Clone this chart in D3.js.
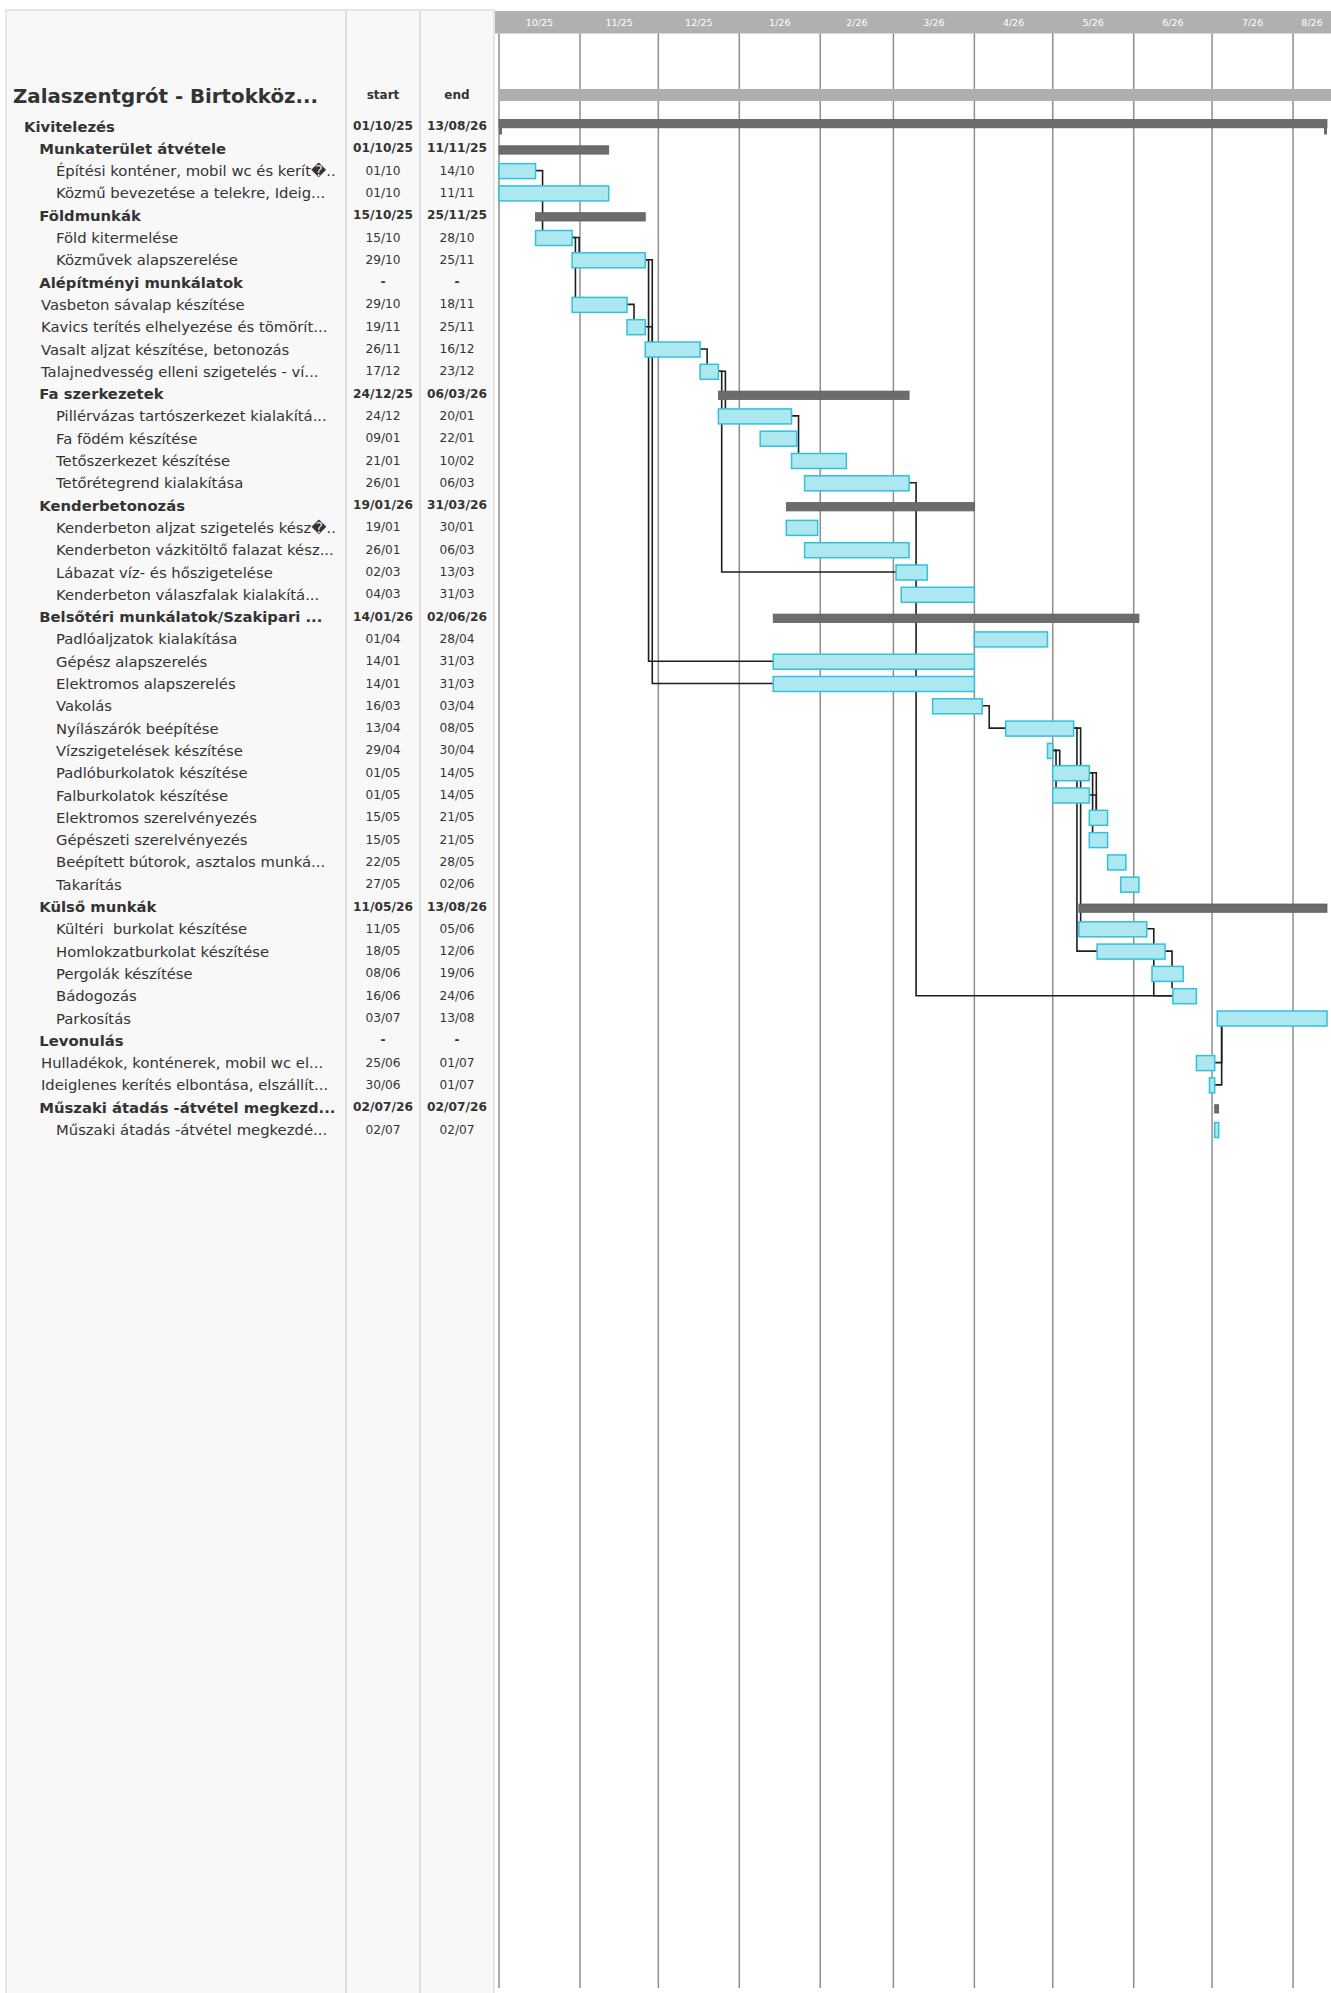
<!DOCTYPE html>
<html>
<head>
<meta charset="utf-8">
<script src="https://cdn.jsdelivr.net/npm/d3@7.9.0/dist/d3.min.js"></script>
<style>
  body { margin: 0; background: #fff; }
  svg { display: block; font-family: "DejaVu Sans", sans-serif; }
  text { white-space: pre; }
</style>
</head>
<body>
<svg id="chart" width="1331" height="1993"></svg>
<script>
// chart data
const projectTitle = "Zalaszentgrót - Birtokköz...";
const columnTitles = ["start", "end"];
const monthLabels = ["10/25", "11/25", "12/25", "1/26", "2/26", "3/26", "4/26", "5/26", "6/26", "7/26", "8/26"];

const taskNames = [
  "Kivitelezés",
  "Munkaterület átvétele",
  "Építési konténer, mobil wc és kerít\uFFFD..",
  "Közmű bevezetése a telekre, Ideig...",
  "Földmunkák",
  "Föld kitermelése",
  "Közművek alapszerelése",
  "Alépítményi munkálatok",
  "Vasbeton sávalap készítése",
  "Kavics terítés elhelyezése és tömörít...",
  "Vasalt aljzat készítése, betonozás",
  "Talajnedvesség elleni szigetelés - ví...",
  "Fa szerkezetek",
  "Pillérvázas tartószerkezet kialakítá...",
  "Fa födém készítése",
  "Tetőszerkezet készítése",
  "Tetőrétegrend kialakítása",
  "Kenderbetonozás",
  "Kenderbeton aljzat szigetelés kész\uFFFD..",
  "Kenderbeton vázkitöltő falazat kész...",
  "Lábazat víz- és hőszigetelése",
  "Kenderbeton válaszfalak kialakítá...",
  "Belsőtéri munkálatok/Szakipari ...",
  "Padlóaljzatok kialakítása",
  "Gépész alapszerelés",
  "Elektromos alapszerelés",
  "Vakolás",
  "Nyílászárók beépítése",
  "Vízszigetelések készítése",
  "Padlóburkolatok készítése",
  "Falburkolatok készítése",
  "Elektromos szerelvényezés",
  "Gépészeti szerelvényezés",
  "Beépített bútorok, asztalos munká...",
  "Takarítás",
  "Külső munkák",
  "Kültéri  burkolat készítése",
  "Homlokzatburkolat készítése",
  "Pergolák készítése",
  "Bádogozás",
  "Parkosítás",
  "Levonulás",
  "Hulladékok, konténerek, mobil wc el...",
  "Ideiglenes kerítés elbontása, elszállít...",
  "Műszaki átadás -átvétel megkezd...",
  "Műszaki átadás -átvétel megkezdé..."
];

const taskLevels = [0, 1, 2, 2, 1, 2, 2, 1, 1, 1, 1, 1, 1, 2, 2, 2, 2, 1, 2, 2, 2, 2, 1, 2, 2, 2,
  2, 2, 2, 2, 2, 2, 2, 2, 2, 1, 2, 2, 2, 2, 2, 1, 1, 1, 1, 2];

const taskIsGroup = [1, 1, 0, 0, 1, 0, 0, 1, 0, 0, 0, 0, 1, 0, 0, 0, 0, 1, 0, 0, 0, 0, 1, 0, 0, 0,
  0, 0, 0, 0, 0, 0, 0, 0, 0, 1, 0, 0, 0, 0, 0, 1, 0, 0, 1, 0];

const taskStarts = [
  "2025-10-01", "2025-10-01", "2025-10-01", "2025-10-01", "2025-10-15", "2025-10-15", "2025-10-29",
  "", "2025-10-29", "2025-11-19", "2025-11-26", "2025-12-17", "2025-12-24", "2025-12-24",
  "2026-01-09", "2026-01-21", "2026-01-26", "2026-01-19", "2026-01-19", "2026-01-26", "2026-03-02",
  "2026-03-04", "2026-01-14", "2026-04-01", "2026-01-14", "2026-01-14", "2026-03-16", "2026-04-13",
  "2026-04-29", "2026-05-01", "2026-05-01", "2026-05-15", "2026-05-15", "2026-05-22", "2026-05-27",
  "2026-05-11", "2026-05-11", "2026-05-18", "2026-06-08", "2026-06-16", "2026-07-03", "",
  "2026-06-25", "2026-06-30", "2026-07-02", "2026-07-02"
];

const taskEnds = [
  "2026-08-13", "2025-11-11", "2025-10-14", "2025-11-11", "2025-11-25", "2025-10-28", "2025-11-25",
  "", "2025-11-18", "2025-11-25", "2025-12-16", "2025-12-23", "2026-03-06", "2026-01-20",
  "2026-01-22", "2026-02-10", "2026-03-06", "2026-03-31", "2026-01-30", "2026-03-06", "2026-03-13",
  "2026-03-31", "2026-06-02", "2026-04-28", "2026-03-31", "2026-03-31", "2026-04-03", "2026-05-08",
  "2026-04-30", "2026-05-14", "2026-05-14", "2026-05-21", "2026-05-21", "2026-05-28", "2026-06-02",
  "2026-08-13", "2026-06-05", "2026-06-12", "2026-06-19", "2026-06-24", "2026-08-13", "",
  "2026-07-01", "2026-07-01", "2026-07-02", "2026-07-02"
];

// [predecessor row, successor row]
const dependencies = [
  [2, 5], [5, 6], [5, 8], [6, 25], [6, 24], [8, 9], [9, 10], [10, 11], [11, 13], [11, 20],
  [13, 15], [16, 39], [26, 27], [27, 36], [27, 37], [28, 29], [28, 30], [29, 31], [29, 32],
  [30, 31], [36, 39], [37, 39], [42, 40], [43, 40]
];

// setup
const parseDate = d3.utcParse("%Y-%m-%d");
const parseMonth = d3.utcParse("%m/%y");
const fmtShort = d3.utcFormat("%d/%m");
const fmtLong = d3.utcFormat("%d/%m/%y");

const svg = d3.select("#chart");
const W = 1331, H = 1993;
const chartLeft = 495;

const x = d3.scaleTime()
  .domain([parseDate("2025-10-01"), parseDate("2026-08-15")])
  .range([499, 1329.6]);

const y = d3.scaleBand()
  .domain(d3.range(taskNames.length))
  .range([114.85, 114.85 + taskNames.length * 22.3]);
const rowMid = (i) => y(i) + y.bandwidth() / 2;

const tasks = taskNames.map((name, i) => ({
  name,
  level: taskLevels[i],
  group: taskIsGroup[i] === 1,
  start: taskStarts[i] ? parseDate(taskStarts[i]) : null,
  end: taskEnds[i] ? d3.utcDay.offset(parseDate(taskEnds[i]), 1) : null,
  endLabel: taskEnds[i] ? parseDate(taskEnds[i]) : null,
}));

// left table panel
svg.append("rect")
  .attr("x", 6).attr("y", 10)
  .attr("width", 488).attr("height", H)
  .attr("fill", "#f8f8f8").attr("stroke", "#dedede").attr("stroke-width", 1.5);

[346, 420].forEach((cx) => {
  svg.append("line")
    .attr("x1", cx).attr("x2", cx).attr("y1", 10).attr("y2", H)
    .attr("stroke", "#dedede").attr("stroke-width", 2);
});

// timeline header
svg.append("rect")
  .attr("x", chartLeft).attr("y", 11)
  .attr("width", W - chartLeft).attr("height", 22.5)
  .attr("fill", "#b0b0b0");

const months = monthLabels.map((m) => parseMonth(m));

svg.append("g").selectAll("line")
  .data(months)
  .join("line")
  .attr("x1", (d) => x(d)).attr("x2", (d) => x(d))
  .attr("y1", 33.5).attr("y2", 1988)
  .attr("stroke", "#8e8e8e").attr("stroke-width", 1.5);

svg.append("g").selectAll("text")
  .data(monthLabels)
  .join("text")
  .attr("x", (d, i) => {
    const a = x(months[i]);
    const b = i < months.length - 1 ? x(months[i + 1]) : W;
    return (a + b) / 2;
  })
  .attr("y", 22.5)
  .attr("text-anchor", "middle")
  .attr("dominant-baseline", "central")
  .attr("fill", "#fff")
  .attr("font-size", "9.5px")
  .text((d) => d);

// project summary bar
svg.append("rect")
  .attr("x", x(tasks[0].start)).attr("y", 89)
  .attr("width", W - x(tasks[0].start)).attr("height", 12)
  .attr("fill", "#afafaf");

// dependency lines
const outCount = {};
const depPaths = dependencies.map(([p, s]) => {
  const k = outCount[p] || 0;
  outCount[p] = k + 1;
  const dx = k === 0 ? 7 : 3.3;
  const x1 = x(tasks[p].end), y1 = rowMid(p);
  const xv = x1 + dx;
  const x2 = x(tasks[s].start), y2 = rowMid(s);
  if (x2 > xv + 1) {
    return `M${x1},${y1}H${xv}V${y2}H${x2}`;
  }
  const yEnd = y2 > y1 ? y2 - 7.5 : y2 + 7.5;
  return `M${x1},${y1}H${xv}V${yEnd}`;
});

svg.append("g").selectAll("path")
  .data(depPaths)
  .join("path")
  .attr("d", (d) => d)
  .attr("fill", "none")
  .attr("stroke", "#1e1e1e")
  .attr("stroke-width", 1.6);

// bars
const withDates = tasks.map((t, i) => ({ ...t, i })).filter((t) => t.start);
const barW = (t) => Math.max(x(t.end) - x(t.start), 4);

const barG = svg.append("g");

barG.selectAll("rect.task")
  .data(withDates.filter((t) => !t.group))
  .join("rect")
  .attr("class", "task")
  .attr("x", (t) => x(t.start))
  .attr("y", (t) => rowMid(t.i) - 7)
  .attr("width", barW)
  .attr("height", 15)
  .attr("fill", "#ade7f0")
  .attr("stroke", "#31c2da")
  .attr("stroke-width", 1.5);

barG.selectAll("rect.group")
  .data(withDates.filter((t) => t.group))
  .join("rect")
  .attr("class", "group")
  .attr("x", (t) => x(t.start))
  .attr("y", (t) => t.level === 0 ? rowMid(t.i) - 6.5 : rowMid(t.i) - 2.5)
  .attr("width", barW)
  .attr("height", 8.3)
  .attr("fill", "#6c6c6c")
  .attr("stroke", "#5e5e5e")
  .attr("stroke-width", 0.8);

// end legs of the top level summary
withDates.filter((t) => t.group && t.level === 0).forEach((t) => {
  [x(t.start), x(t.end) - 3].forEach((lx) => {
    barG.append("rect")
      .attr("x", lx).attr("y", rowMid(t.i) + 1.5)
      .attr("width", 3).attr("height", 7)
      .attr("fill", "#6c6c6c");
  });
});

// table texts
svg.append("text")
  .attr("x", 13).attr("y", 96)
  .attr("dominant-baseline", "central")
  .attr("font-weight", "bold").attr("font-size", "19.8px")
  .attr("fill", "#333")
  .text(projectTitle);

svg.selectAll("text.colhead")
  .data(columnTitles)
  .join("text")
  .attr("class", "colhead")
  .attr("x", (d, i) => (i === 0 ? 383 : 457))
  .attr("y", 94.5)
  .attr("text-anchor", "middle")
  .attr("dominant-baseline", "central")
  .attr("font-weight", "bold").attr("font-size", "12px")
  .attr("fill", "#333")
  .text((d) => d);

const rowsG = svg.append("g");

rowsG.selectAll("text.name")
  .data(tasks)
  .join("text")
  .attr("class", "name")
  .attr("x", (t) => (t.group ? 24 + 15.3 * t.level : 26 + 15 * t.level))
  .attr("y", (t, i) => rowMid(i))
  .attr("dominant-baseline", "central")
  .attr("font-size", "14.8px")
  .attr("font-weight", (t) => (t.group ? "bold" : "normal"))
  .attr("fill", "#333")
  .text((t) => t.name);

const dateLabel = (t, d) => (!d ? "-" : t.group ? fmtLong(d) : fmtShort(d));

rowsG.selectAll("text.start")
  .data(tasks)
  .join("text")
  .attr("class", "start")
  .attr("x", 383)
  .attr("y", (t, i) => rowMid(i))
  .attr("text-anchor", "middle")
  .attr("dominant-baseline", "central")
  .attr("font-size", "12.2px")
  .attr("font-weight", (t) => (t.group ? "bold" : "normal"))
  .attr("fill", "#333")
  .text((t) => dateLabel(t, t.start));

rowsG.selectAll("text.end")
  .data(tasks)
  .join("text")
  .attr("class", "end")
  .attr("x", 457)
  .attr("y", (t, i) => rowMid(i))
  .attr("text-anchor", "middle")
  .attr("dominant-baseline", "central")
  .attr("font-size", "12.2px")
  .attr("font-weight", (t) => (t.group ? "bold" : "normal"))
  .attr("fill", "#333")
  .text((t) => dateLabel(t, t.endLabel));
</script>
</body>
</html>
